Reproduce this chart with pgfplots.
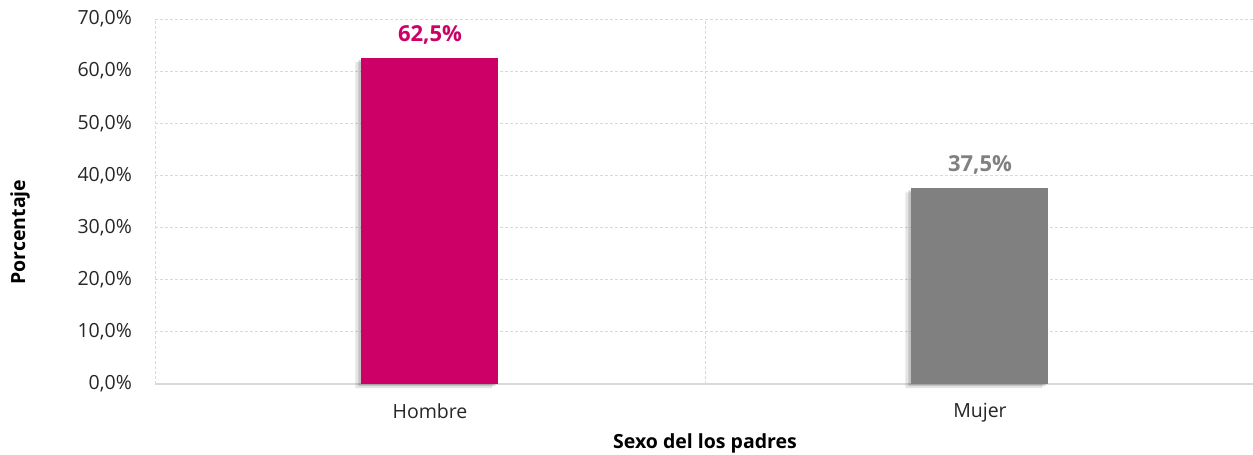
\documentclass[border=0pt]{standalone}
\usepackage{pgfplots}
\pgfplotsset{compat=1.18}
\usepackage{fontspec}
\setmainfont{Open Sans}
\definecolor{mag}{HTML}{CC0066}
\definecolor{gr}{HTML}{808080}
\definecolor{gridc}{HTML}{D9D9D9}
\begin{document}
\begin{tikzpicture}
\begin{axis}[
  at={(155pt,71pt)}, anchor=south west,
  scale only axis, width=1100pt, height=365pt,
  xmin=-0.5, xmax=1.5, ymin=0, ymax=70,
  clip=false,
  xtick={0,1}, xticklabels={Hombre,Mujer},
  minor xtick={-0.5,0.5}, xminorgrids,
  ytick={0,10,...,70}, ymajorgrids,
  major tick length=0pt, minor tick length=0pt,
  grid style={dash pattern=on 3pt off 2pt, gridc, line width=0.8pt},
  minor grid style={dash pattern=on 3pt off 2pt, gridc, line width=0.8pt},
  axis x line*=bottom, axis y line*=left,
  x axis line style={draw=gridc, line width=1.6pt, -},
  y axis line style={draw=none},
  /pgf/number format/assume math mode=true,
  yticklabel={\pgfmathprintnumber[fixed,fixed zerofill,precision=1,use comma]{\tick}\%},
  yticklabel style={font=\fontsize{19.5}{23}\selectfont, color=black!85, inner sep=0pt, anchor=east, xshift=-23pt},
  xticklabel style={font=\fontsize{19.5}{23}\selectfont, color=black!85, inner sep=0pt, anchor=north, yshift=-19pt},
  ylabel={\bfseries Porcentaje},
  ylabel style={font=\fontsize{19.5}{23}\selectfont, at={(axis description cs:-0.1227,0.416)}, anchor=center, rotate=0},
  xlabel={\bfseries Sexo del los padres},
  xlabel style={font=\fontsize{19.5}{23}\selectfont, at={(axis description cs:0.5,-0.164)}, anchor=center},
]
% shadows
\addplot[ybar, bar width=137pt, bar shift=-6pt, yshift=-4pt, fill=black, opacity=0.10, draw=none] coordinates {(0,62.5) (1,37.5)};
\addplot[ybar, bar width=137pt, bar shift=-3pt, yshift=-2pt, fill=black, opacity=0.15, draw=none] coordinates {(0,62.5) (1,37.5)};
% bars
\addplot[ybar, bar width=137pt, bar shift=0pt, fill=mag, draw=none,
  nodes near coords={\pgfmathprintnumber[fixed,fixed zerofill,precision=1,use comma]{\pgfplotspointmeta}\%},
  every node near coord/.style={font=\fontsize{22}{26}\selectfont\bfseries, color=mag, anchor=base, inner sep=0pt, yshift=17pt}]
  coordinates {(0,62.5)};
\addplot[ybar, bar width=137pt, bar shift=0pt, fill=gr, draw=none,
  nodes near coords={\pgfmathprintnumber[fixed,fixed zerofill,precision=1,use comma]{\pgfplotspointmeta}\%},
  every node near coord/.style={font=\fontsize{22}{26}\selectfont\bfseries, color=gr, anchor=base, inner sep=0pt, yshift=17pt}]
  coordinates {(1,37.5)};
\end{axis}
\pgfresetboundingbox
\path[use as bounding box] (0,0) rectangle (1253pt,455pt);
\end{tikzpicture}
\end{document}
